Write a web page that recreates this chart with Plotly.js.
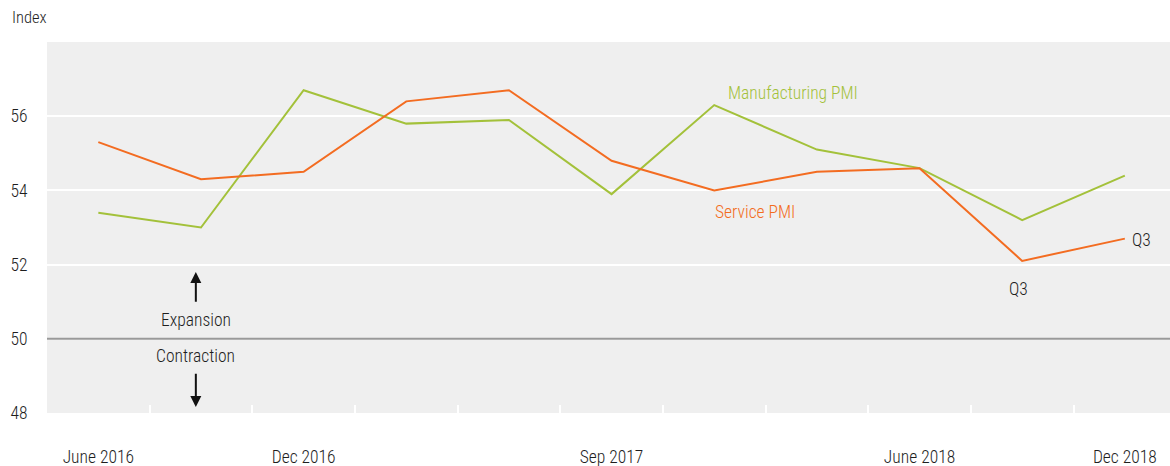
<!DOCTYPE html>
<html>
<head>
<meta charset="utf-8">
<script src="https://cdn.plot.ly/plotly-3.0.1.min.js"></script>
<style>html,body{margin:0;padding:0;background:#fff;}#chart{width:1170px;height:466px;}</style>
</head>
<body>
<div id="chart"></div>
<script>
const quarters = ["June 2016","Sep 2016","Dec 2016","Mar 2017","June 2017","Sep 2017","Dec 2017","Mar 2018","June 2018","Sep 2018","Dec 2018"];
const manufacturingPMI = [53.4, 53.0, 56.7, 55.8, 55.9, 53.9, 56.3, 55.1, 54.6, 53.2, 54.4];
const servicePMI = [55.3, 54.3, 54.5, 56.4, 56.7, 54.8, 54.0, 54.5, 54.6, 52.1, 52.7];
const labelledTicks = ["June 2016","Dec 2016","Sep 2017","June 2018","Dec 2018"];
const yTicks = [48, 50, 52, 54, 56];

const FONT = "'Liberation Sans Narrow', 'Roboto Condensed', 'Arial Narrow', Roboto, sans-serif";
const GREEN = "#a3c13a";
const ORANGE = "#f36c21";
const TXT = "#1e1e1e";
const FS = 17.5;
const W = 300;

const xIdx = quarters.map((q, i) => i);
const tickIdx = labelledTicks.map(l => quarters.indexOf(l));
const boundaries = quarters.slice(1).map((q, i) => i + 0.5);
const XR = [-0.5, 10.44];

const traces = [
  {x: xIdx, y: manufacturingPMI, type: "scatter", mode: "lines", name: "Manufacturing PMI",
   line: {color: GREEN, width: 2}, hoverinfo: "skip"},
  {x: xIdx, y: servicePMI, type: "scatter", mode: "lines", name: "Service PMI",
   line: {color: ORANGE, width: 2}, hoverinfo: "skip"},
  {x: [], y: [], xaxis: "x2", yaxis: "y", showlegend: false}
];

const f = (c, s) => ({family: FONT, size: s || FS, color: c || TXT, weight: W});

const layout = {
  width: 1170, height: 466,
  margin: {l: 47, r: 0, t: 42, b: 53},
  paper_bgcolor: "#ffffff",
  plot_bgcolor: "#efefef",
  showlegend: false,
  font: f(),
  xaxis: {
    range: XR, tickmode: "array", tickvals: tickIdx, ticktext: labelledTicks,
    showgrid: false, zeroline: false, showline: false,
    ticks: "outside", ticklen: 28, tickcolor: "rgba(0,0,0,0)",
    tickfont: f(), fixedrange: true
  },
  xaxis2: {
    overlaying: "x", range: XR, tickmode: "array", tickvals: boundaries,
    showticklabels: false, ticks: "inside", ticklen: 8, tickwidth: 2, tickcolor: "#ffffff",
    showgrid: false, zeroline: false, showline: false, side: "bottom", anchor: "y"
  },
  yaxis: {
    range: [48, 58], tickmode: "array", tickvals: yTicks,
    showgrid: true, gridcolor: "#ffffff", gridwidth: 2,
    zeroline: false, showline: false,
    ticks: "outside", ticklen: 15, tickcolor: "rgba(0,0,0,0)",
    tickfont: f(), fixedrange: true
  },
  shapes: [
    {type: "line", xref: "paper", x0: 0, x1: 1, yref: "y", y0: 50, y1: 50,
     line: {color: "#999999", width: 2}}
  ],
  annotations: [
    {xref: "paper", yref: "paper", x: -0.033, y: 1.065, xanchor: "left", yanchor: "middle",
     text: "Index", showarrow: false, font: f(TXT, 16.5)},
    {x: 6.77, y: 56.62, text: "Manufacturing PMI", showarrow: false, font: f(GREEN)},
    {x: 6.4, y: 53.42, text: "Service PMI", showarrow: false, font: f(ORANGE)},
    {x: 10.05, y: 52.66, xanchor: "left", text: "Q3", showarrow: false, font: f()},
    {x: 8.96, y: 51.34, text: "Q3", showarrow: false, font: f()},
    {x: 0.95, y: 50.5, text: "Expansion", showarrow: false, font: f()},
    {x: 0.95, y: 49.54, text: "Contraction", showarrow: false, font: f()},
    {x: 0.95, y: 51.8, ax: 0.95, ay: 50.96, axref: "x", ayref: "y", text: "", showarrow: true,
     arrowhead: 2, arrowsize: 1.1, arrowwidth: 2, arrowcolor: "#111"},
    {x: 0.95, y: 48.16, ax: 0.95, ay: 49.1, axref: "x", ayref: "y", text: "", showarrow: true,
     arrowhead: 2, arrowsize: 1.1, arrowwidth: 2, arrowcolor: "#111"}
  ]
};

Plotly.newPlot("chart", traces, layout, {staticPlot: true, displayModeBar: false});
</script>
</body>
</html>
